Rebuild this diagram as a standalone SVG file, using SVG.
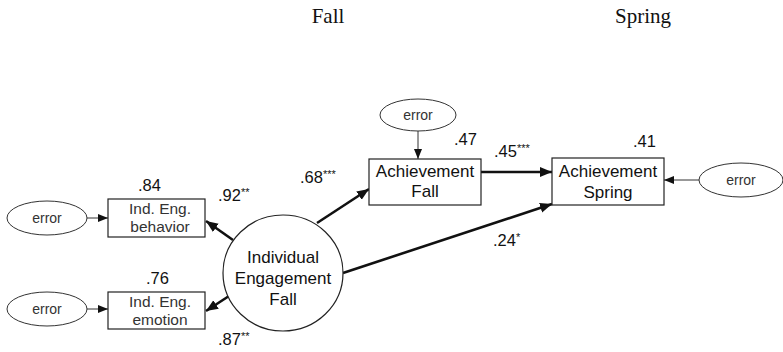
<svg xmlns="http://www.w3.org/2000/svg" width="783" height="352" viewBox="0 0 783 352">
<style>
.bg{fill:#fff}
.box{fill:#fff;stroke:#222;stroke-width:1.2}
.ell{fill:#fff;stroke:#333;stroke-width:1}
.t{font-family:"Liberation Sans",Arial,sans-serif;fill:#111;text-anchor:middle}
.big{font-size:17px}
.sm{font-size:15.5px;fill:#333}
.err{font-size:14px;fill:#333}
.lab{font-family:"Liberation Sans",Arial,sans-serif;font-size:16.5px;fill:#111}
.sup{font-size:11px}
.hd{font-family:"Liberation Serif","Times New Roman",serif;font-size:21px;fill:#111;text-anchor:middle}
.thin{stroke:#333;stroke-width:1;fill:none;marker-end:url(#ah)}
.thick{stroke:#111;stroke-width:2.6;fill:none;marker-end:url(#ahb)}
</style>
<defs>
<marker id="ah" markerUnits="userSpaceOnUse" markerWidth="11" markerHeight="9" refX="10" refY="4" orient="auto"><path d="M0,0 L10,4 L0,8 z" fill="#111"/></marker>
<marker id="ahb" markerUnits="userSpaceOnUse" markerWidth="13" markerHeight="11" refX="12" refY="5" orient="auto"><path d="M0,0 L12,5 L0,10 z" fill="#111"/></marker>
</defs>
<rect class="bg" x="0" y="0" width="783" height="352"/>
<text class="hd" x="328" y="23">Fall</text>
<text class="hd" x="643" y="23">Spring</text>

<g id="connectors">
<line class="thin" x1="87" y1="218" x2="108" y2="218"/>
<line class="thin" x1="87" y1="309" x2="108" y2="309"/>
<line class="thin" x1="418" y1="131" x2="418" y2="159"/>
<line class="thin" x1="699" y1="180" x2="664" y2="180"/>
<line class="thick" x1="233" y1="240" x2="206" y2="221"/>
<line class="thick" x1="229" y1="296" x2="206" y2="311"/>
<line class="thick" x1="317" y1="223" x2="369" y2="189"/>
<line class="thick" x1="343" y1="273" x2="552" y2="204"/>
<line class="thick" x1="481" y1="172" x2="552" y2="172"/>
</g>

<g id="err1"><ellipse class="ell" cx="47" cy="218" rx="40" ry="17"/><text class="t err" x="47" y="223">error</text></g>
<g id="err2"><ellipse class="ell" cx="47" cy="309" rx="40" ry="17"/><text class="t err" x="47" y="314">error</text></g>
<g id="err3"><ellipse class="ell" cx="418" cy="115" rx="38" ry="16"/><text class="t err" x="418" y="120">error</text></g>
<g id="err4"><ellipse class="ell" cx="741" cy="180" rx="42" ry="17"/><text class="t err" x="741" y="185">error</text></g>

<g id="behavior"><rect class="box" x="108" y="199" width="97" height="38"/><text class="t sm" x="160" y="214">Ind. Eng.</text><text class="t sm" x="160" y="232">behavior</text></g>
<g id="emotion"><rect class="box" x="108" y="292" width="97" height="37"/><text class="t sm" x="160" y="307">Ind. Eng.</text><text class="t sm" x="160" y="325">emotion</text></g>
<g id="engagement"><ellipse class="box" cx="283" cy="273" rx="60" ry="58"/><text class="t big" x="283" y="263">Individual</text><text class="t big" x="283" y="284">Engagement</text><text class="t big" x="283" y="305">Fall</text></g>
<g id="achFall"><rect class="box" x="369" y="159" width="112" height="46"/><text class="t big" x="425" y="177">Achievement</text><text class="t big" x="425" y="197">Fall</text></g>
<g id="achSpring"><rect class="box" x="552" y="158" width="112" height="47"/><text class="t big" x="608" y="177">Achievement</text><text class="t big" x="608" y="198">Spring</text></g>

<g id="labels">
<text class="lab" x="138" y="191">.84</text>
<text class="lab" x="146" y="284">.76</text>
<text class="lab" x="218" y="201">.92<tspan class="sup" dy="-5">**</tspan></text>
<text class="lab" x="218" y="345">.87<tspan class="sup" dy="-5">**</tspan></text>
<text class="lab" x="300" y="183">.68<tspan class="sup" dy="-5">***</tspan></text>
<text class="lab" x="454" y="145">.47</text>
<text class="lab" x="494" y="157">.45<tspan class="sup" dy="-5">***</tspan></text>
<text class="lab" x="633" y="147">.41</text>
<text class="lab" x="493" y="246">.24<tspan class="sup" dy="-5">*</tspan></text>
</g>
</svg>
